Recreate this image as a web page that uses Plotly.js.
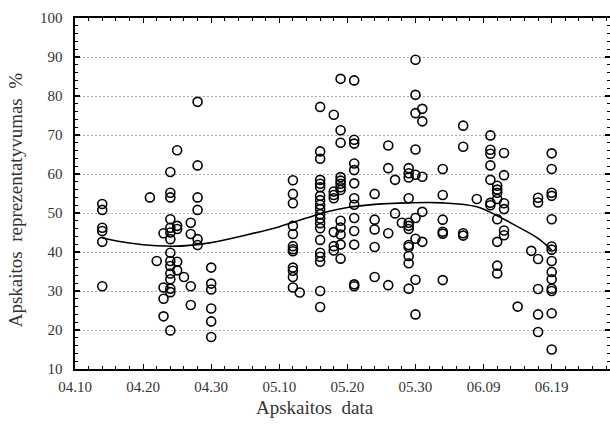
<!DOCTYPE html>
<html>
<head>
<meta charset="utf-8">
<script src="https://cdn.plot.ly/plotly-3.0.1.min.js"></script>
<style>html,body{margin:0;padding:0;background:#fff;}#chart{width:610px;height:435px;}</style>
</head>
<body>
<div id="chart"></div>
<script>
// Observation dates (month.day) and the values observed on each date
const obsDates = ['04.14','04.21','04.22','04.23','04.24','04.25','04.26','04.27','04.28','04.30',
  '05.12','05.13','05.16','05.18','05.19','05.21','05.24','05.26','05.27','05.28','05.29','05.30','05.31',
  '06.03','06.06','06.08','06.10','06.11','06.12','06.14','06.16','06.17','06.19'];
const obsValues = [
  [52.3, 50.8, 46.2, 45.4, 42.6, 31.2],
  [54.0],
  [37.7],
  [44.8, 30.9, 28.0, 23.5],
  [60.5, 55.2, 54.0, 48.4, 46.2, 45.0, 43.3, 39.8, 37.7, 36.4, 34.5, 33.0, 30.6, 29.7, 19.9],
  [66.1, 46.7, 45.9, 37.5, 35.3],
  [33.6],
  [47.5, 44.6, 31.2, 26.4],
  [78.5, 62.2, 54.0, 50.8, 43.3, 41.8],
  [36.0, 31.9, 30.4, 25.5, 22.2, 18.2],
  [58.4, 54.9, 52.5, 46.7, 44.6, 41.5, 40.7, 40.2, 36.0, 35.2, 33.6, 30.9],
  [29.6],
  [77.2, 65.8, 63.9, 58.5, 57.5, 56.6, 54.4, 53.3, 52.1, 51.0, 49.7, 48.6, 47.4, 46.1, 43.1, 39.8, 38.8, 37.5, 30.0, 25.9],
  [75.2, 55.5, 54.6, 53.8, 45.1, 41.5, 40.4],
  [84.4, 71.2, 68.0, 59.2, 58.3, 57.5, 56.6, 55.9, 48.0, 46.3, 44.5, 41.9, 38.3],
  [84.0, 68.8, 67.8, 62.7, 61.0, 57.6, 53.8, 52.1, 48.7, 45.4, 41.9, 31.7, 31.2],
  [54.9, 48.3, 45.8, 41.3, 33.6],
  [67.3, 61.5, 44.8, 31.5],
  [58.5, 49.9],
  [47.5],
  [61.5, 60.2, 59.1, 53.8, 47.5, 46.7, 45.9, 41.8, 41.3, 39.0, 37.1, 30.6],
  [89.3, 80.3, 75.6, 66.3, 59.8, 48.7, 43.4, 32.9, 24.0],
  [76.7, 73.5, 59.3, 50.3, 42.6],
  [61.3, 54.6, 48.3, 45.2, 44.7, 32.8],
  [72.4, 67.0, 44.8, 44.2],
  [53.6],
  [69.9, 66.2, 65.2, 62.2, 58.5, 52.6, 52.0],
  [57.0, 56.0, 55.2, 53.6, 48.4, 42.6, 36.5, 34.5],
  [65.4, 59.7, 52.5, 51.0, 45.5, 44.3],
  [26.0],
  [40.3],
  [53.9, 52.7, 38.2, 30.5, 24.0, 19.5],
  [65.3, 61.3, 55.2, 54.4, 48.4, 41.4, 40.6, 37.7, 34.9, 33.0, 30.6, 30.0, 24.3, 15.0]
];
// Smoothed fit line
const fitDates = ['04.14','04.18','04.22','04.25','04.28','04.30','05.05','05.10','05.14','05.17',
  '05.20','05.24','05.29','06.03','06.08','06.11','06.14','06.17','06.19'];
const fitValues = [43.6, 42.3, 41.6, 41.5, 41.9, 42.4, 44.3, 46.5, 48.7, 50.3,
  51.4, 52.2, 52.6, 52.6, 51.6, 49.3, 46.5, 43.5, 40.5];

const YEAR = '2000';
const toIso = d => YEAR + '-' + d.replace('.', '-');

const xs = [], ys = [];
obsDates.forEach((d, i) => {
  obsValues[i].forEach(v => { xs.push(toIso(d)); ys.push(v); });
});

const FONT = 'Liberation Serif, Times New Roman, serif';
const DAY = 86400000;

const traces = [
  {
    x: xs, y: ys, type: 'scatter', mode: 'markers',
    marker: {symbol: 'circle-open', size: 9, color: '#000', line: {width: 1.6, color: '#000'}},
    hoverinfo: 'x+y', showlegend: false
  },
  {
    x: fitDates.map(toIso), y: fitValues, type: 'scatter', mode: 'lines',
    line: {color: '#000', width: 1.6, shape: 'spline', smoothing: 1},
    showlegend: false
  }
];

const layout = {
  width: 610, height: 435,
  margin: {l: 75, r: 0, t: 18, b: 66},
  paper_bgcolor: '#fff', plot_bgcolor: '#fff',
  font: {family: FONT, color: '#000', size: 15},
  showlegend: false,
  xaxis: {
    type: 'date',
    range: [toIso('04.10'), YEAR + '-06-27 13:30'],
    tickmode: 'linear', tick0: toIso('04.10'), dtick: 10 * DAY,
    tickformat: '%m.%d',
    ticks: 'inside', ticklen: 5, tickwidth: 1.2, tickcolor: '#000',
    minor: {tickmode: 'linear', tick0: toIso('04.10'), dtick: 2 * DAY, ticks: 'inside', ticklen: 3, tickwidth: 1, tickcolor: '#000'},
    showline: true, linecolor: '#000', linewidth: 1.6, mirror: 'allticks',
    showgrid: false, zeroline: false,
    tickfont: {family: FONT, size: 15, color: '#333'},
    ticklabelstandoff: 3
  },
  yaxis: {
    range: [10, 100],
    tickmode: 'linear', tick0: 10, dtick: 10,
    ticks: 'inside', ticklen: 5, tickwidth: 1.2, tickcolor: '#000',
    minor: {tickmode: 'linear', tick0: 10, dtick: 2, ticks: 'inside', ticklen: 3, tickwidth: 1, tickcolor: '#000', showgrid: false},
    showline: true, linecolor: '#000', linewidth: 1.6, mirror: 'allticks',
    showgrid: true, gridcolor: '#aaaaaa', gridwidth: 1, griddash: '2px,2px',
    zeroline: false,
    tickfont: {family: FONT, size: 15, color: '#333'},
    ticklabelstandoff: 8
  },
  annotations: [
    {text: 'Apskaitos  data', xref: 'paper', yref: 'paper', x: 0.449, y: -0.11,
     xanchor: 'center', yanchor: 'middle', showarrow: false,
     font: {family: FONT, size: 19, color: '#333'}},
    {text: 'Apskaitos  reprezentatyvumas  %', xref: 'paper', yref: 'paper', x: -0.112, y: 0.481,
     xanchor: 'center', yanchor: 'middle', textangle: -90, showarrow: false,
     font: {family: FONT, size: 19, color: '#333'}}
  ]
};

Plotly.newPlot('chart', traces, layout, {staticPlot: true, displayModeBar: false});
</script>
</body>
</html>
